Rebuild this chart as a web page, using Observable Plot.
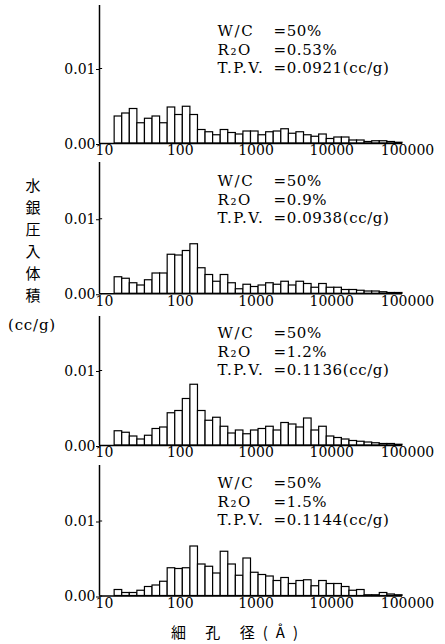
<!DOCTYPE html>
<html><head><meta charset="utf-8">
<script src="https://cdn.jsdelivr.net/npm/d3@7"></script>
<script src="https://cdn.jsdelivr.net/npm/@observablehq/plot@0.6"></script>
<style>
html,body{margin:0;padding:0;background:#fff;}
body{width:445px;height:644px;position:relative;overflow:hidden;font-family:"DejaVu Serif",serif;color:#000;}
.panel{position:absolute;left:0;}
.panel svg{overflow:visible;}
.ych{position:absolute;font-family:"Noto Sans CJK JP",sans-serif;font-size:15px;width:20px;text-align:center;line-height:1;}
.ycu{position:absolute;font-family:"DejaVu Serif",serif;font-size:15px;line-height:1;white-space:pre;letter-spacing:0.8px;}
.xt{position:absolute;font-family:"Noto Sans CJK JP",sans-serif;font-size:15px;line-height:1;white-space:pre;letter-spacing:8px;}
</style></head><body>
<div id="root"></div>
<script>
// bin edges of pore diameter (Å), 0.1-decade bins
const binEdges = [15.85, 19.95, 25.12, 31.62, 39.81, 50.12, 63.10, 79.43, 100, 125.9,
  158.5, 199.5, 251.2, 316.2, 398.1, 501.2, 631.0, 794.3, 1000, 1259,
  1585, 1995, 2512, 3162, 3981, 5012, 6310, 7943, 10000, 12589,
  15849, 19953, 25119, 31623, 39811, 50119, 63096, 79433, 100000];

// pore volume per bin (cc/g)
const r053 = [0.0036, 0.0040, 0.0046, 0.0027, 0.0033, 0.0036, 0.0027, 0.0048, 0.0038, 0.0049,
  0.0038, 0.0018, 0.0015, 0.0011, 0.0018, 0.0014, 0.0012, 0.0016, 0.0016, 0.0011,
  0.0015, 0.0016, 0.0019, 0.0013, 0.0015, 0.0011, 0.0009, 0.0012, 0.0006, 0.0008,
  0.0008, 0.0004, 0.0004, 0.0002, 0.0003, 0.0003, 0.0002, 0.0001];
const r09 = [0.0022, 0.0020, 0.0014, 0.0011, 0.0018, 0.0027, 0.0027, 0.0052, 0.0051, 0.0057,
  0.0066, 0.0034, 0.0025, 0.0016, 0.0025, 0.0014, 0.0006, 0.0012, 0.0009, 0.0011,
  0.0014, 0.0012, 0.0016, 0.0011, 0.0016, 0.0013, 0.0008, 0.0013, 0.0008, 0.0008,
  0.0005, 0.0005, 0.0004, 0.0003, 0.0003, 0.0002, 0.0001, 0.0001];
const r12 = [0.0019, 0.0017, 0.0012, 0.0008, 0.0013, 0.0022, 0.0024, 0.0043, 0.0046, 0.0062,
  0.0081, 0.0046, 0.0033, 0.0037, 0.0025, 0.0016, 0.0020, 0.0015, 0.0020, 0.0022,
  0.0025, 0.0020, 0.0030, 0.0028, 0.0024, 0.0036, 0.0020, 0.0025, 0.0012, 0.0010,
  0.0008, 0.0006, 0.0005, 0.0004, 0.0003, 0.0002, 0.0002, 0.0001];
const r15 = [0.0008, 0.0004, 0.0004, 0.0007, 0.0012, 0.0014, 0.0019, 0.0037, 0.0036, 0.0037,
  0.0066, 0.0042, 0.0039, 0.0030, 0.0059, 0.0042, 0.0027, 0.0050, 0.0031, 0.0028,
  0.0026, 0.0020, 0.0024, 0.0016, 0.0020, 0.0021, 0.0013, 0.0020, 0.0016, 0.0016,
  0.0012, 0.0007, 0.0008, 0.0001, 0.0001, 0.0004, 0.0002, 0.0001];

const xTicks = [10, 100, 1000, 10000, 100000];
const yTicks = [0, 0.01];
const wcLabels = ["W/C", "R₂O", "T.P.V."];
const wcValues = [
  ["=50%", "=0.53%", "=0.0921(cc/g)"],
  ["=50%", "=0.9%", "=0.0938(cc/g)"],
  ["=50%", "=1.2%", "=0.1136(cc/g)"],
  ["=50%", "=1.5%", "=0.1144(cc/g)"]
];
const yTitleChars = ["水", "銀", "圧", "入", "体", "積"];
const yTitleUnit = "(cc/g)";
const xTitle = "細 孔 径(Å)";

const series = [r053, r09, r12, r15];
const baselines = [143, 293, 445, 595];
const yMaxes = [0.0184, 0.0175, 0.0172, 0.0174];
const lineDy = [-108, -89, -71];
const PX = 7500; // px per cc/g
const root = document.getElementById("root");

series.forEach((vals, k) => {
  const rows = vals.map((v, i) => ({x1: binEdges[i], x2: binEdges[i + 1], v}));
  const yMax = yMaxes[k];
  const h = yMax * PX;
  const mt = 2, mb = 22;
  const textMarks = [];
  wcLabels.forEach((l, i) => {
    textMarks.push(Plot.text([l], {frameAnchor: "bottom-left", dx: 118, dy: lineDy[i], textAnchor: "start",
      fontSize: 15, fill: "black"}));
    textMarks.push(Plot.text([wcValues[k][i]], {frameAnchor: "bottom-left", dx: 174, dy: lineDy[i], textAnchor: "start",
      fontSize: 15, fill: "black"}));
  });
  const chart = Plot.plot({
    width: 445, height: mt + h + mb,
    marginLeft: 99, marginRight: 43, marginTop: mt, marginBottom: mb,
    x: {type: "log", domain: [xTicks[0], xTicks[xTicks.length - 1]]},
    y: {domain: [0, yMax]},
    style: {background: "transparent", overflow: "visible", fontFamily: "DejaVu Serif, serif", fontSize: "14px", color: "black"},
    marks: [
      Plot.rectY(rows, {x1: "x1", x2: "x2", y: "v", fill: "white", stroke: "black", strokeWidth: 1.2}),
      Plot.ruleY([0], {stroke: "black", strokeWidth: 1.5}),
      Plot.ruleX([xTicks[0]], {stroke: "black", strokeWidth: 1.5}),
      Plot.axisY({ticks: yTicks, tickFormat: d => d.toFixed(2), tickSize: 3, tickPadding: 1, dy: 1, fontSize: 14, label: null}),
      Plot.ruleY(yTicks, {x1: xTicks[0], x2: xTicks[0] * 1.1, stroke: "black", strokeWidth: 1}),
      Plot.axisX({ticks: xTicks, tickFormat: d => String(d), tickSize: 0, tickPadding: 2, dx: 5, fontSize: 14, label: null}),
      ...textMarks
    ]
  });
  // widen the annotation lettering to match the reference typeface
  chart.querySelectorAll("text").forEach(t => {
    const s = t.textContent;
    if (wcLabels.includes(s)) t.style.letterSpacing = "1.6px";
    else if (wcValues[k].includes(s)) t.style.letterSpacing = "0.6px";
  });
  const div = document.createElement("div");
  div.className = "panel";
  div.style.top = (baselines[k] - h - mt) + "px";
  div.appendChild(chart);
  root.appendChild(div);
});

// vertical y title
yTitleChars.forEach((c, i) => {
  const d = document.createElement("div");
  d.className = "ych";
  d.textContent = c;
  d.style.left = "23px";
  d.style.top = (177 + i * 22) + "px";
  root.appendChild(d);
});
const u = document.createElement("div");
u.className = "ycu";
u.textContent = yTitleUnit;
u.style.left = "8px";
u.style.top = "318px";
root.appendChild(u);

const xt = document.createElement("div");
xt.className = "xt";
xt.textContent = xTitle;
xt.style.left = "171px";
xt.style.top = "624px";
root.appendChild(xt);
</script>
</body></html>
